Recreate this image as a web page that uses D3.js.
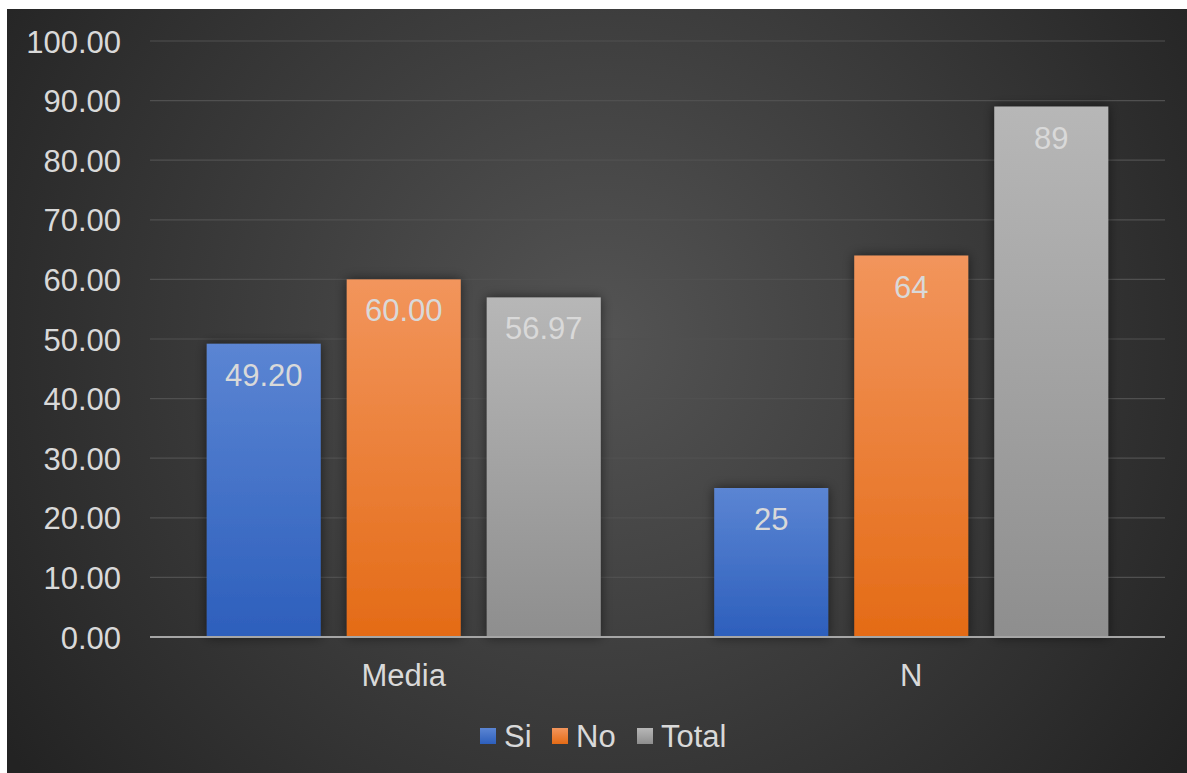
<!DOCTYPE html>
<html>
<head>
<meta charset="utf-8">
<script src="https://cdn.jsdelivr.net/npm/d3@7"></script>
<style>
  html, body { margin: 0; padding: 0; background: #ffffff; }
  svg { display: block; }
  text { font-family: "Liberation Sans", Arial, sans-serif; }
</style>
</head>
<body>
<svg id="chart" width="1187" height="773"></svg>
<script>
// Chart data
const categories = ["Media", "N"];
const seriesNames = ["Si", "No", "Total"];
const siValues = [49.20, 25];
const noValues = [60.00, 64];
const totalValues = [56.97, 89];
const valueLabels = [["49.20", "60.00", "56.97"], ["25", "64", "89"]];
const yTicks = [0, 10, 20, 30, 40, 50, 60, 70, 80, 90, 100];

const seriesValues = [siValues, noValues, totalValues];
const seriesColors = [
  { top: "#5b85d3", bottom: "#2d5fbc" },
  { top: "#f2955c", bottom: "#e46b16" },
  { top: "#b7b7b7", bottom: "#8e8e8e" }
];

const W = 1187, H = 773;
const plot = { left: 150, right: 1165, top: 41, bottom: 637 };
const textColor = "#d9d9d9";

const svg = d3.select("#chart");
const defs = svg.append("defs");

// Dark radial background
const bg = defs.append("radialGradient")
  .attr("id", "bgGrad")
  .attr("gradientUnits", "userSpaceOnUse")
  .attr("cx", 600).attr("cy", 340).attr("r", 720);
bg.append("stop").attr("offset", "0%").attr("stop-color", "#545454");
bg.append("stop").attr("offset", "100%").attr("stop-color", "#232323");

seriesColors.forEach((c, i) => {
  const g = defs.append("linearGradient")
    .attr("id", "barGrad" + i)
    .attr("x1", 0).attr("y1", 0).attr("x2", 0).attr("y2", 1);
  g.append("stop").attr("offset", "0%").attr("stop-color", c.top);
  g.append("stop").attr("offset", "100%").attr("stop-color", c.bottom);
});

const shadow = defs.append("filter")
  .attr("id", "barShadow")
  .attr("x", "-30%").attr("y", "-30%").attr("width", "160%").attr("height", "160%");
shadow.append("feDropShadow")
  .attr("dx", 0).attr("dy", 0).attr("stdDeviation", 6)
  .attr("flood-color", "#000000").attr("flood-opacity", 0.55);

svg.append("rect")
  .attr("x", 7).attr("y", 9)
  .attr("width", W - 7).attr("height", H - 9)
  .attr("fill", "url(#bgGrad)");

// Scales
const y = d3.scaleLinear().domain([0, 100]).range([plot.bottom, plot.top]);
const x0 = d3.scaleBand().domain(categories).range([plot.left, plot.right]).paddingInner(0).paddingOuter(0);
const innerWidth = 394;
const x1 = d3.scaleBand().domain(seriesNames)
  .range([0, innerWidth]).paddingInner(0.186).paddingOuter(0);

// Gridlines
svg.append("g")
  .selectAll("line")
  .data(yTicks.filter(t => t > 0))
  .join("line")
  .attr("x1", plot.left).attr("x2", plot.right)
  .attr("y1", d => y(d)).attr("y2", d => y(d))
  .attr("stroke", "#505050").attr("stroke-width", 1.2);

// Y axis labels
const yAxis = d3.axisLeft(y).tickValues(yTicks).tickFormat(d3.format(".2f")).tickSize(0).tickPadding(0);
const yAxisG = svg.append("g")
  .attr("transform", `translate(121,0)`)
  .call(yAxis);
yAxisG.select(".domain").remove();
yAxisG.selectAll("text")
  .attr("fill", textColor)
  .attr("font-size", 31)
  .attr("dy", "0.36em");

// Bars
const groups = svg.append("g")
  .selectAll("g")
  .data(categories)
  .join("g")
  .attr("transform", d => `translate(${x0(d) + (x0.bandwidth() - innerWidth) / 2},0)`);

groups.selectAll("rect")
  .data((c, ci) => seriesNames.map((s, si) => ({ s, si, ci, v: seriesValues[si][ci] })))
  .join("rect")
  .attr("x", d => x1(d.s))
  .attr("y", d => y(d.v))
  .attr("width", x1.bandwidth())
  .attr("height", d => y(0) - y(d.v))
  .attr("fill", d => `url(#barGrad${d.si})`)
  .attr("filter", "url(#barShadow)");

// Value labels inside the bar tops
groups.selectAll("text.val")
  .data((c, ci) => seriesNames.map((s, si) => ({ s, si, ci, v: seriesValues[si][ci] })))
  .join("text")
  .attr("class", "val")
  .attr("x", d => x1(d.s) + x1.bandwidth() / 2)
  .attr("y", d => y(d.v) + 42)
  .attr("text-anchor", "middle")
  .attr("font-size", 31)
  .attr("fill", textColor)
  .text(d => valueLabels[d.ci][d.si]);

// Baseline
svg.append("line")
  .attr("x1", plot.left).attr("x2", plot.right)
  .attr("y1", y(0)).attr("y2", y(0))
  .attr("stroke", "#a6a6a6").attr("stroke-width", 2);

// Category axis
const xAxis = d3.axisBottom(x0).tickSize(0).tickPadding(0);
const xAxisG = svg.append("g")
  .attr("transform", `translate(0,${y(0)})`)
  .call(xAxis);
xAxisG.select(".domain").remove();
xAxisG.selectAll("text")
  .attr("fill", textColor)
  .attr("font-size", 31)
  .attr("y", 49)
  .attr("dy", 0);

// Legend
const legendItems = [
  { name: "Si", sq: 480, tx: 504 },
  { name: "No", sq: 552, tx: 576 },
  { name: "Total", sq: 637, tx: 661 }
];
const legend = svg.append("g");
legend.selectAll("rect")
  .data(legendItems)
  .join("rect")
  .attr("x", d => d.sq).attr("y", 728)
  .attr("width", 16).attr("height", 16)
  .attr("fill", (d, i) => `url(#barGrad${i})`);
legend.selectAll("text")
  .data(legendItems)
  .join("text")
  .attr("x", d => d.tx).attr("y", 747)
  .attr("font-size", 31)
  .attr("fill", textColor)
  .text(d => d.name);
</script>
</body>
</html>
